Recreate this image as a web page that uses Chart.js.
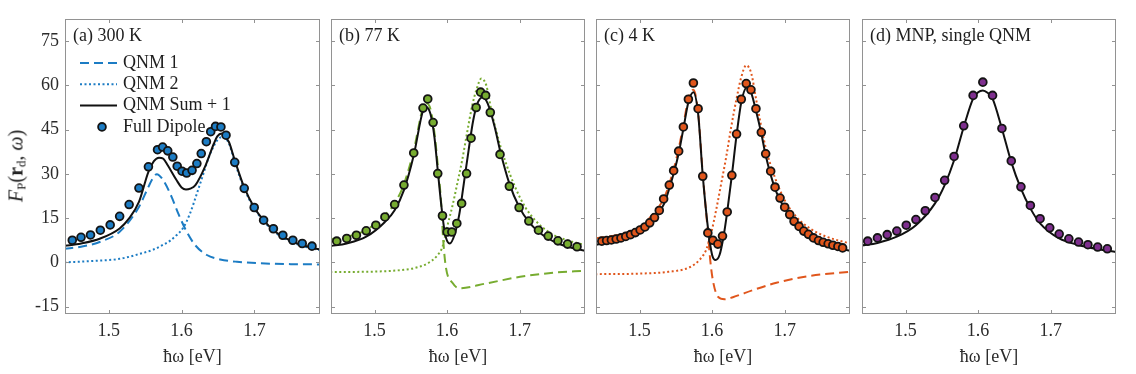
<!DOCTYPE html>
<html>
<head>
<meta charset="utf-8">
<script src="https://cdn.jsdelivr.net/npm/chart.js@4.4.1/dist/chart.umd.min.js"></script>
<style>
  body { margin: 0; background: #fff; width: 1136px; height: 374px; position: relative; overflow: hidden; font-family: "Liberation Serif", serif; }
  canvas { position: absolute; top: 0; }
  #ylab { position: absolute; left: 17px; top: 166px; transform: translate(-50%, -50%) rotate(-90deg);
          white-space: nowrap; font-size: 20px; color: #222; }
  #ylab sub { font-size: 13px; vertical-align: -3px; }
</style>
</head>
<body>
<canvas id="pa" width="326" height="374" style="left:0px"></canvas>
<canvas id="pb" width="266" height="374" style="left:325px"></canvas>
<canvas id="pc" width="266" height="374" style="left:590px"></canvas>
<canvas id="pd" width="266" height="374" style="left:856px"></canvas>
<div id="ylab"><i>F</i><sub>P</sub>(<b>r</b><sub>d</sub>, <i>ω</i>)</div>

<script>
// axis setup shared by all four panels
const xMin = 1.44, xMax = 1.79;
const yMin = -17.5, yMax = 82.5;
const xTicks = [1.5, 1.6, 1.7];
const yTicks = [-15, 0, 15, 30, 45, 60, 75];
const panelTitles = ['(a) 300 K', '(b) 77 K', '(c) 4 K', '(d) MNP, single QNM'];
const legendLabels = ['QNM 1', 'QNM 2', 'QNM Sum + 1', 'Full Dipole'];

// (a) 300 K
const dipXA = [1.450,1.462,1.475,1.4885,1.502,1.515,1.528,1.5415,1.5545,1.567,1.574,1.581,1.588,1.594,1.6006,1.607,1.6144,1.621,1.627,1.634,1.640,1.6466,1.654,1.661,1.673,1.686,1.6997,1.7126,1.726,1.739,1.7527,1.7656,1.779];
const dipYA = [7.5,8.5,9.3,10.9,12.7,15.6,19.6,25.2,32.4,38.2,39.1,37.8,35.7,32.6,30.9,30.3,31.2,33.5,36.9,40.9,44.3,46.1,45.9,43.1,33.9,25.1,18.6,14.3,11.4,9.2,7.5,6.4,5.5];
const sumXA = [1.439,1.462,1.4885,1.515,1.528,1.5415,1.5545,1.562,1.569,1.575,1.581,1.593,1.600,1.606,1.612,1.619,1.633,1.6444,1.649,1.655,1.660,1.665,1.673,1.686,1.6997,1.7126,1.726,1.739,1.7527,1.7656,1.785,1.791];
const sumYA = [5.6,6.4,8.1,11.5,14.9,20.5,30.7,34.3,35.5,35.1,32.9,27.9,25.4,24.7,25.0,26.2,32.9,40.3,42.7,43.7,42.5,40.8,34.6,25.4,18.6,14.3,10.9,8.7,7.0,5.9,4.6,4.4];
const q1XA = [1.439,1.462,1.4885,1.515,1.5415,1.5545,1.560,1.566,1.5747,1.5863,1.5954,1.607,1.6185,1.6347,1.653,1.676,1.7084,1.750,1.791];
const q1YA = [4.6,5.3,7.0,10.4,18.8,25.6,28.3,29.9,27.9,22.2,16.6,10.4,5.9,2.5,1.0,0.2,-0.3,-0.6,-0.7];
const q2XA = [1.439,1.480,1.515,1.5415,1.561,1.575,1.584,1.593,1.6024,1.6116,1.621,1.630,1.637,1.6444,1.651,1.657,1.665,1.673,1.686,1.6997,1.7126,1.726,1.739,1.7527,1.7656,1.791];
const q2YA = [0.0,0.5,1.2,2.8,4.3,6.0,7.3,9.2,11.8,16.6,23.3,30.1,35.4,39.5,42.0,42.5,40.3,34.0,25.0,18.3,14.0,10.6,8.4,6.7,5.6,4.1];

// (b) 77 K
const dipXB = [1.4479,1.4617,1.475,1.4885,1.5018,1.5143,1.5277,1.5405,1.554,1.5668,1.5733,1.5807,1.5871,1.5936,1.600,1.6065,1.6134,1.620,1.6268,1.633,1.640,1.6462,1.6531,1.6595,1.6729,1.6858,1.6992,1.7126,1.7259,1.7393,1.7527,1.766,1.779];
const dipYB = [7.2,8.1,9.2,10.7,12.6,15.4,19.6,26.2,37.1,52.3,55.4,47.4,30.1,15.8,10.3,10.3,13.2,20.0,30.1,42.1,52.5,57.7,56.6,50.8,36.6,25.8,18.6,14.0,10.9,8.9,7.3,6.2,5.3];
const sumXB = [1.439,1.4617,1.4885,1.5143,1.5277,1.5405,1.554,1.5668,1.571,1.577,1.5825,1.5871,1.5917,1.597,1.6037,1.610,1.6166,1.623,1.6296,1.636,1.6425,1.6494,1.656,1.6656,1.6729,1.6858,1.6992,1.7126,1.7259,1.7393,1.7527,1.766,1.790];
const sumYB = [5.5,6.4,8.7,13.7,17.7,24.5,36.3,51.5,52.7,50.4,42.5,31.2,20.0,9.8,6.4,9.2,16.0,26.7,38.0,48.2,54.3,56.0,53.8,45.9,38.0,26.7,18.8,13.7,10.4,8.1,6.4,5.3,3.9];
const q1XB = [1.439,1.4617,1.4885,1.5143,1.5277,1.5405,1.554,1.5668,1.571,1.577,1.5825,1.5871,1.5917,1.5945,1.5982,1.6079,1.6166,1.6545,1.7006,1.7466,1.790];
const q1YB = [7.8,8.7,11.0,16.0,20.0,26.5,38.0,52.5,54.0,52.0,44.0,33.0,20.5,8.0,-1.5,-7.1,-8.8,-7.1,-4.9,-3.5,-2.8];
const q2XB = [1.439,1.5143,1.5405,1.554,1.5733,1.5871,1.5936,1.600,1.607,1.614,1.6207,1.6277,1.6346,1.641,1.647,1.654,1.661,1.668,1.6797,1.6936,1.7074,1.7213,1.7393,1.758,1.790];
const q2YB = [-3.3,-3.0,-2.5,-2.0,-0.3,2.5,5.3,12.0,18.8,26.7,34.6,44.2,53.2,59.0,62.3,60.0,51.5,44.2,34.6,25.6,18.8,14.3,10.4,8.1,5.9];

// (c) 4 K
const dipXC = [1.448,1.4546,1.4612,1.4678,1.4744,1.481,1.4876,1.4942,1.5008,1.5074,1.514,1.5206,1.5272,1.5332,1.541,1.547,1.5539,1.5604,1.5673,1.5742,1.5807,1.5871,1.5941,1.601,1.6079,1.6143,1.6208,1.6272,1.6337,1.6402,1.647,1.6535,1.6604,1.6678,1.6738,1.6807,1.6867,1.6936,1.700,1.7069,1.7129,1.7198,1.7263,1.7327,1.7397,1.7466,1.753,1.7599,1.7664,1.7733,1.7798];
const dipYC = [7.2,7.4,7.6,7.9,8.3,8.8,9.4,10.1,11.0,12.0,13.4,15.2,17.6,21.5,26.2,31.1,37.7,45.9,55.3,60.8,52.1,29.2,10.0,7.5,6.2,8.9,17.1,29.5,43.5,55.3,60.6,58.5,52.1,44.1,36.8,30.9,25.5,21.8,18.7,16.2,13.9,12.2,10.6,9.5,8.3,7.4,6.8,6.3,5.8,5.4,4.9];
const sumXC = [1.439,1.4479,1.481,1.5018,1.5207,1.5341,1.547,1.5539,1.5604,1.5673,1.5742,1.5807,1.5871,1.5941,1.600,1.6047,1.6102,1.6157,1.6208,1.6272,1.6337,1.6402,1.648,1.6535,1.6604,1.6678,1.6738,1.6867,1.700,1.7134,1.7264,1.7397,1.753,1.7665,1.790];
const sumYC = [5.9,6.4,8.1,10.4,14.9,20.0,30.1,36.9,45.3,54.3,57.7,50.4,29.5,12.0,2.5,0.8,2.5,8.7,17.1,29.5,43.1,54.3,59.4,57.7,51.5,43.7,36.3,25.0,18.3,13.7,10.4,8.1,6.4,5.3,3.9];
const q1XC = [1.439,1.481,1.5018,1.5207,1.5341,1.547,1.5539,1.5604,1.5673,1.5742,1.5807,1.5871,1.5941,1.5974,1.601,1.6079,1.6171,1.6286,1.6563,1.6886,1.7347,1.790];
const q1YC = [8.1,10.0,12.3,17.0,22.0,31.5,38.5,46.5,55.5,58.5,50.8,30.0,10.5,0.8,-6.0,-11.6,-12.5,-11.8,-9.4,-6.9,-4.6,-3.2];
const q2XC = [1.439,1.500,1.5394,1.5687,1.5825,1.5917,1.5986,1.6055,1.6125,1.6194,1.6263,1.6332,1.6402,1.647,1.654,1.6609,1.6678,1.6747,1.6862,1.700,1.7162,1.7347,1.7577,1.790];
const q2YC = [-4.0,-3.8,-3.2,-1.7,0.8,4.2,9.8,17.7,26.7,35.7,45.9,54.9,62.8,66.8,64.0,54.9,45.9,38.0,29.0,21.1,15.4,11.5,8.7,6.4];

// (d) MNP, single QNM
const dipXD = [1.4479,1.4613,1.4747,1.488,1.501,1.5143,1.5272,1.5406,1.5539,1.5669,1.5802,1.5931,1.6065,1.6199,1.6328,1.6457,1.659,1.672,1.6854,1.6987,1.7117,1.725,1.7384,1.7513,1.7647,1.778];
const dipYD = [7.2,8.3,9.4,10.6,12.6,14.5,17.5,22.0,27.8,35.9,46.3,56.6,61.1,56.6,45.4,34.4,25.6,19.3,14.8,11.7,9.6,8.0,6.9,6.0,5.2,4.6];
const sumXD = [1.439,1.4613,1.488,1.5143,1.5406,1.5539,1.5669,1.5802,1.5931,1.600,1.6065,1.613,1.6199,1.6328,1.6457,1.659,1.672,1.6854,1.7117,1.7384,1.7647,1.790];
const sumYD = [5.7,6.6,8.7,12.6,20.0,26.2,34.6,45.9,55.5,57.7,58.3,57.5,55.5,45.3,34.0,25.0,18.3,13.2,8.1,5.9,4.5,3.5];

const blue = '#1c7cc4', green = '#77ac30', orange = '#e0561c', purple = '#7e2f8e';
const frameColor = '#929292', textColor = '#2b2b2b';
const fontFamily = '"Liberation Serif", serif';
const fontSize = 18;

function pts(xs, ys) {
    return xs.map((x, i) => ({ x: x, y: ys[i] }));
}

function lineSet(label, xs, ys, color, dash, order) {
    return {
        label: label, data: pts(xs, ys), showLine: true,
        borderColor: color, borderWidth: 2, borderDash: dash,
        pointRadius: 0, cubicInterpolationMode: 'monotone', order: order
    };
}

function dotSet(label, xs, ys, color) {
    return {
        label: label, data: pts(xs, ys), showLine: false,
        pointRadius: 3.9, pointBorderWidth: 1.8,
        pointBackgroundColor: color, pointBorderColor: '#141414', order: 0
    };
}

// frame, inward ticks, panel title and (for panel a) the legend
const framePlugin = {
    id: 'frame',
    afterDraw(chart, args, opts) {
        const { ctx, chartArea: a, scales: { x, y } } = chart;
        const tl = 4;
        ctx.save();
        ctx.strokeStyle = frameColor;
        ctx.lineWidth = 1;
        ctx.setLineDash([]);
        ctx.strokeRect(a.left + 0.5, a.top + 0.5, a.width - 1, a.height - 1);
        ctx.beginPath();
        x.ticks.forEach(function (t) {
            const px = Math.round(x.getPixelForValue(t.value)) + 0.5;
            ctx.moveTo(px, a.bottom); ctx.lineTo(px, a.bottom - tl);
            ctx.moveTo(px, a.top); ctx.lineTo(px, a.top + tl);
        });
        y.ticks.forEach(function (t) {
            const py = Math.round(y.getPixelForValue(t.value)) + 0.5;
            ctx.moveTo(a.left, py); ctx.lineTo(a.left + tl, py);
            ctx.moveTo(a.right, py); ctx.lineTo(a.right - tl, py);
        });
        ctx.stroke();

        ctx.fillStyle = '#1e1e1e';
        ctx.font = fontSize + 'px ' + fontFamily;
        ctx.textBaseline = 'middle';
        ctx.textAlign = 'left';
        ctx.fillText(opts.title, a.left + 8, a.top + 17);

        if (opts.legend) {
            legendLabels.forEach(function (lab, i) {
                const ds = chart.data.datasets[i];
                const ly = a.top + 44 + i * 21.3;
                if (ds.showLine) {
                    ctx.strokeStyle = ds.borderColor;
                    ctx.lineWidth = ds.borderWidth;
                    ctx.setLineDash(ds.borderDash || []);
                    ctx.beginPath();
                    ctx.moveTo(a.left + 15, ly);
                    ctx.lineTo(a.left + 52, ly);
                    ctx.stroke();
                } else {
                    ctx.setLineDash([]);
                    ctx.beginPath();
                    ctx.arc(a.left + 37, ly, ds.pointRadius, 0, Math.PI * 2);
                    ctx.fillStyle = ds.pointBackgroundColor;
                    ctx.fill();
                    ctx.lineWidth = ds.pointBorderWidth;
                    ctx.strokeStyle = ds.pointBorderColor;
                    ctx.stroke();
                }
                ctx.fillStyle = '#1e1e1e';
                ctx.fillText(lab, a.left + 58, ly);
            });
        }
        ctx.restore();
    }
};

function makeChart(id, title, datasets, leftW, showY, legend) {
    return new Chart(document.getElementById(id), {
        type: 'scatter',
        data: { datasets: datasets },
        options: {
            responsive: false,
            animation: false,
            devicePixelRatio: 1,
            events: [],
            layout: { padding: { top: 19, right: 6, left: 0, bottom: 0 } },
            plugins: {
                legend: { display: false },
                tooltip: { enabled: false },
                frame: { title: title, legend: legend }
            },
            scales: {
                x: {
                    type: 'linear', min: xMin, max: xMax,
                    afterBuildTicks: function (s) { s.ticks = xTicks.map(v => ({ value: v })); },
                    afterFit: function (s) { s.height = 60; },
                    grid: { display: false, drawTicks: false },
                    border: { display: false },
                    ticks: {
                        padding: 6, color: textColor,
                        font: { family: fontFamily, size: fontSize },
                        callback: v => v.toFixed(1)
                    },
                    title: {
                        display: true, text: 'ħω [eV]', color: textColor,
                        font: { family: fontFamily, size: fontSize },
                        padding: { top: 0, bottom: 6 }
                    }
                },
                y: {
                    type: 'linear', min: yMin, max: yMax,
                    afterBuildTicks: function (s) { s.ticks = yTicks.map(v => ({ value: v })); },
                    afterFit: function (s) { s.width = leftW; },
                    grid: { display: false, drawTicks: false },
                    border: { display: false },
                    ticks: {
                        display: showY, padding: 6, color: textColor,
                        font: { family: fontFamily, size: fontSize }
                    }
                }
            }
        },
        plugins: [framePlugin]
    });
}

makeChart('pa', panelTitles[0], [
    lineSet('QNM 1', q1XA, q1YA, blue, [9, 5], 3),
    lineSet('QNM 2', q2XA, q2YA, blue, [2, 2.5], 2),
    lineSet('QNM Sum + 1', sumXA, sumYA, '#111', [], 1),
    dotSet('Full Dipole', dipXA, dipYA, blue)
], 65, true, true);

makeChart('pb', panelTitles[1], [
    lineSet('QNM 1', q1XB, q1YB, green, [9, 5], 3),
    lineSet('QNM 2', q2XB, q2YB, green, [2, 2.5], 2),
    lineSet('QNM Sum + 1', sumXB, sumYB, '#111', [], 1),
    dotSet('Full Dipole', dipXB, dipYB, green)
], 6, false, false);

makeChart('pc', panelTitles[2], [
    lineSet('QNM 1', q1XC, q1YC, orange, [9, 5], 3),
    lineSet('QNM 2', q2XC, q2YC, orange, [2, 2.5], 2),
    lineSet('QNM Sum + 1', sumXC, sumYC, '#111', [], 1),
    dotSet('Full Dipole', dipXC, dipYC, orange)
], 6, false, false);

makeChart('pd', panelTitles[3], [
    lineSet('QNM', sumXD, sumYD, '#111', [], 1),
    dotSet('Full Dipole', dipXD, dipYD, purple)
], 6, false, false);
</script>
</body>
</html>
